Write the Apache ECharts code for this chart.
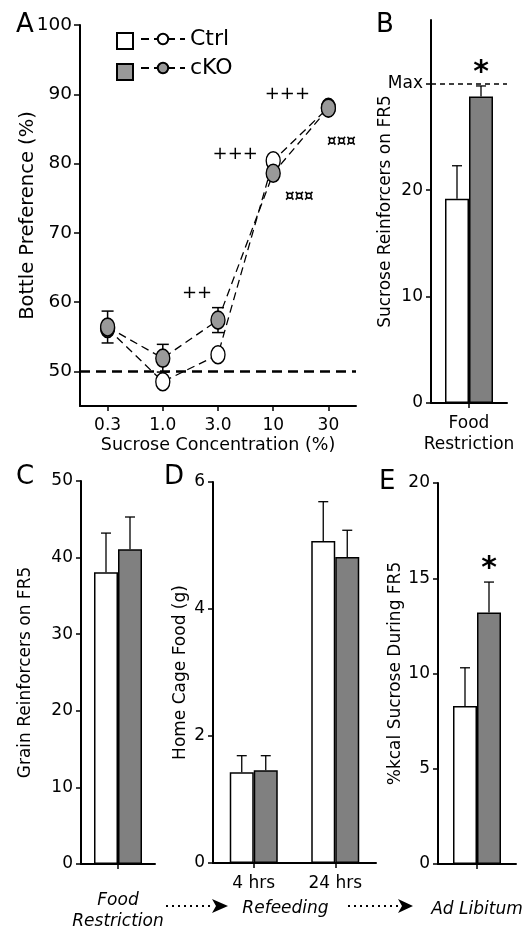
<!DOCTYPE html>
<html>
<head>
<meta charset="utf-8">
<script src="https://cdn.jsdelivr.net/npm/echarts@6/dist/echarts.min.js"></script>
<style>
  html, body { margin: 0; padding: 0; background: #fff; }
  #chartDiv { width: 528px; height: 928px; }
</style>
</head>
<body>
<div id="chartDiv"></div>
<script>
var myChart = echarts.init(document.getElementById('chartDiv'));

// A: two-bottle preference
var concentrations = ['0.3', '1.0', '3.0', '10', '30'];
var ctrlPref = [56.2, 48.5, 52.4, 80.4, 88.1];
var ckoPref = [56.4, 51.9, 57.4, 78.6, 88.0];
var ckoPrefSem = [2.3, 2.0, 1.8, 0, 0];
var plusMarks = ['', '', '++', '+++', '+++'];
var currencyMarks = ['', '', '', '¤¤¤', '¤¤¤'];

// B: sucrose reinforcers, food restriction
var catB = ['Food\nRestriction'];
var ctrlB = [19.2], ctrlSemB = [3.1];
var ckoB = [28.8], ckoSemB = [1.0];
var starB = [1];
var maxReinforcers = 30;

// C: grain reinforcers
var catC = [''];
var ctrlC = [38.1], ctrlSemC = [5.1];
var ckoC = [41.1], ckoSemC = [4.2];
var starC = [0];

// D: home cage food
var catD = ['4 hrs', '24 hrs'];
var ctrlD = [1.43, 5.07], ctrlSemD = [0.26, 0.62];
var ckoD = [1.46, 4.82], ckoSemD = [0.23, 0.42];
var starD = [0, 0];

// E: %kcal sucrose, ad libitum
var catE = [''];
var ctrlE = [8.3], ctrlSemE = [2.0];
var ckoE = [13.2], ckoSemE = [1.6];
var starE = [1];

var fontFam = 'DejaVu Sans';
var BAR_W = 24;

// pixel offsets of the A annotations from their cKO point (style only)
var plusOffsets = [null, null, [-21, -27], [-38, -19], [-41, -14]];
var currencyOffsets = [null, null, null, [26, 24], [13, 34]];

function yAxis(gi, o) {
    return Object.assign({
        type: 'value',
        gridIndex: gi,
        nameLocation: 'middle',
        nameMoveOverlap: false,
        nameTextStyle: {color: '#000', fontSize: 17, fontFamily: fontFam},
        axisLine: {show: true, lineStyle: {color: '#000', width: 2}},
        axisTick: {show: true, length: 5, lineStyle: {color: '#000', width: 1.5}},
        axisLabel: {color: '#000', fontSize: 17, fontFamily: fontFam, margin: 8},
        splitLine: {show: false}
    }, o);
}

function xAxis(gi, cats, o) {
    return Object.assign({
        type: 'category',
        gridIndex: gi,
        data: cats,
        nameLocation: 'middle',
        nameMoveOverlap: false,
        nameTextStyle: {color: '#000', fontSize: 17, fontFamily: fontFam, fontStyle: 'italic', lineHeight: 21},
        axisLine: {show: true, onZero: false, lineStyle: {color: '#000', width: 2}},
        axisTick: {show: true, alignWithLabel: true, length: 5, lineStyle: {color: '#000', width: 1.5}},
        axisLabel: {color: '#000', fontSize: 17, fontFamily: fontFam, margin: 10, lineHeight: 21, interval: 0}
    }, o);
}

function barErrorItem(params, api) {
    var base = api.coord([api.value(0), api.value(1)]);
    var top = api.coord([api.value(0), api.value(2)]);
    var x = base[0] + (api.value(3) ? BAR_W / 2 : -BAR_W / 2);
    var children = [
        {type: 'line', shape: {x1: x, y1: base[1], x2: x, y2: top[1]}, style: {stroke: '#000', lineWidth: 1.3}},
        {type: 'line', shape: {x1: x - 5, y1: top[1], x2: x + 5, y2: top[1]}, style: {stroke: '#000', lineWidth: 1.3}}
    ];
    if (api.value(4)) {
        children.push({
            type: 'text', x: x, y: top[1] - 13,
            style: {text: '*', fill: '#000', font: 'bold 30px "DejaVu Sans"', align: 'center', verticalAlign: 'middle'}
        });
    }
    return {type: 'group', children: children};
}

function barSeries(gi, ctrl, ctrlSem, cko, ckoSem, stars, extraCko) {
    var errData = [];
    for (var i = 0; i < ctrl.length; i++) {
        errData.push([i, ctrl[i], ctrl[i] + ctrlSem[i], 0, 0]);
        errData.push([i, cko[i], cko[i] + ckoSem[i], 1, stars[i]]);
    }
    var ckoSeries = {
        name: 'cKO', type: 'bar', xAxisIndex: gi, yAxisIndex: gi, data: cko,
        barWidth: BAR_W, barGap: '0%',
        itemStyle: {color: '#808080', borderColor: '#000', borderWidth: 1.5}
    };
    if (extraCko) Object.assign(ckoSeries, extraCko);
    return [
        {
            name: 'Ctrl', type: 'bar', xAxisIndex: gi, yAxisIndex: gi, data: ctrl,
            barWidth: BAR_W, barGap: '0%',
            itemStyle: {color: '#fff', borderColor: '#000', borderWidth: 1.5}
        },
        ckoSeries,
        {
            type: 'custom', xAxisIndex: gi, yAxisIndex: gi, data: errData, z: 3,
            encode: {x: 0, y: [1, 2]},
            renderItem: barErrorItem
        }
    ];
}

var prefErr = [];
ckoPref.forEach(function (v, i) {
    if (ckoPrefSem[i] > 0) prefErr.push([i, v - ckoPrefSem[i], v + ckoPrefSem[i]]);
});

// annotation texts anchored on the cKO points
var annoData = [], annoText = [], annoOffset = [], annoFont = [];
ckoPref.forEach(function (v, i) {
    if (plusMarks[i]) {
        annoData.push([i, v]); annoText.push(plusMarks[i]);
        annoOffset.push(plusOffsets[i]); annoFont.push('18px "DejaVu Sans"');
    }
    if (currencyMarks[i]) {
        annoData.push([i, v]); annoText.push(currencyMarks[i]);
        annoOffset.push(currencyOffsets[i]); annoFont.push('bold 15px "DejaVu Sans"');
    }
});

function letter(t, l, tp) {
    return {text: t, left: l, top: tp, textStyle: {fontSize: 26, fontWeight: 'normal', color: '#000', fontFamily: fontFam}};
}

function grid(l, t, w, h) {
    return {left: l, top: t, width: w, height: h, outerBoundsMode: 'none'};
}

option = {
    backgroundColor: '#fff',
    animation: false,
    title: [
        letter('A', 11, 7),
        letter('B', 371, 7),
        letter('C', 11, 459),
        letter('D', 159, 459),
        letter('E', 374, 464)
    ],
    legend: [
        {
            orient: 'vertical', left: 111, top: 27,
            data: ['Ctrl', 'cKO'], icon: 'rect',
            itemWidth: 16, itemHeight: 16, itemGap: 13,
            selectedMode: false,
            formatter: function () { return ''; },
            textStyle: {fontSize: 16}
        },
        {
            orient: 'vertical', left: 135, top: 23,
            data: ['Ctrl', 'cKO'],
            itemWidth: 44, itemHeight: 13, itemGap: 7,
            selectedMode: false,
            textStyle: {fontSize: 22, color: '#000', fontFamily: fontFam}
        }
    ],
    grid: [
        grid(80, 25, 276, 381),
        grid(431, 20, 76, 383),
        grid(81, 481, 74, 383),
        grid(213, 482, 163, 381),
        grid(438, 483, 78, 381)
    ],
    xAxis: [
        xAxis(0, concentrations, {
            name: 'Sucrose Concentration (%)', nameGap: 30,
            nameTextStyle: {color: '#000', fontSize: 17.5, fontFamily: fontFam},
            axisLabel: {color: '#000', fontSize: 17, fontFamily: fontFam, margin: 11}
        }),
        xAxis(1, catB),
        xAxis(2, catC, {name: 'Food\nRestriction', nameGap: 26}),
        xAxis(3, catD, {
            name: 'Refeeding', nameGap: 37,
            nameTextStyle: {color: '#000', fontSize: 17, fontFamily: fontFam, fontStyle: 'italic', padding: [0, 18, 0, 0]}
        }),
        xAxis(4, catE, {name: 'Ad Libitum', nameGap: 35})
    ],
    yAxis: [
        yAxis(0, {
            min: 45, max: 100, name: 'Bottle Preference (%)', nameGap: 42,
            nameTextStyle: {color: '#000', fontSize: 19.5, fontFamily: fontFam},
            axisTick: {show: true, length: 6, customValues: [50, 60, 70, 80, 90, 100], lineStyle: {color: '#000', width: 1.5}},
            axisLabel: {color: '#000', fontSize: 18.5, fontFamily: fontFam, margin: 8, customValues: [50, 60, 70, 80, 90, 100]}
        }),
        yAxis(1, {
            min: 0, max: 36, name: 'Sucrose Reinforcers on FR5', nameGap: 37,
            axisTick: {show: true, length: 5, customValues: [0, 10, 20, maxReinforcers], lineStyle: {color: '#000', width: 1.5}},
            axisLabel: {
                color: '#000', fontSize: 17, fontFamily: fontFam, margin: 8,
                customValues: [0, 10, 20, maxReinforcers],
                formatter: function (v) { return v === maxReinforcers ? 'Max' : v; }
            }
        }),
        yAxis(2, {min: 0, max: 50, interval: 10, name: 'Grain Reinforcers on FR5', nameGap: 47}),
        yAxis(3, {min: 0, max: 6, interval: 2, name: 'Home Cage Food (g)', nameGap: 24}),
        yAxis(4, {min: 0, max: 20, interval: 5, name: '%kcal Sucrose During FR5', nameGap: 34})
    ],
    graphic: [
        {type: 'polyline', shape: {points: [[166, 906], [212, 906]]}, style: {stroke: '#000', lineWidth: 2, lineDash: [2, 4]}},
        {type: 'polygon', shape: {points: [[212, 899], [228, 906], [212, 913], [216, 906]]}, style: {fill: '#000'}},
        {type: 'polyline', shape: {points: [[348, 906], [398, 906]]}, style: {stroke: '#000', lineWidth: 2, lineDash: [2, 4]}},
        {type: 'polygon', shape: {points: [[398, 899], [413, 906], [398, 913], [402, 906]]}, style: {fill: '#000'}}
    ],
    series: [
        {
            type: 'custom', xAxisIndex: 0, yAxisIndex: 0, data: prefErr, z: 1,
            encode: {x: 0, y: [1, 2]},
            renderItem: function (params, api) {
                var lo = api.coord([api.value(0), api.value(1)]);
                var hi = api.coord([api.value(0), api.value(2)]);
                var st = {stroke: '#000', lineWidth: 1.5};
                return {type: 'group', children: [
                    {type: 'line', shape: {x1: lo[0], y1: lo[1], x2: hi[0], y2: hi[1]}, style: st},
                    {type: 'line', shape: {x1: lo[0] - 6, y1: lo[1], x2: lo[0] + 6, y2: lo[1]}, style: st},
                    {type: 'line', shape: {x1: hi[0] - 6, y1: hi[1], x2: hi[0] + 6, y2: hi[1]}, style: st}
                ]};
            }
        },
        {
            name: 'Ctrl', type: 'line', xAxisIndex: 0, yAxisIndex: 0, data: ctrlPref, z: 2,
            symbol: 'circle', symbolSize: [14, 18],
            itemStyle: {color: '#fff', borderColor: '#000', borderWidth: 1.5},
            lineStyle: {color: '#000', width: 1.3, type: [8, 5]},
            markLine: {
                silent: true, symbol: 'none', label: {show: false},
                lineStyle: {color: '#000', width: 2.5, type: [10, 6]},
                data: [{yAxis: 50}]
            }
        },
        {
            name: 'cKO', type: 'line', xAxisIndex: 0, yAxisIndex: 0, data: ckoPref, z: 3,
            symbol: 'circle', symbolSize: [14, 18],
            itemStyle: {color: '#999', borderColor: '#000', borderWidth: 1.5},
            lineStyle: {color: '#000', width: 1.3, type: [8, 5]}
        },
        {
            type: 'custom', xAxisIndex: 0, yAxisIndex: 0, data: annoData, z: 4, silent: true,
            encode: {x: 0, y: 1},
            renderItem: function (params, api) {
                var p = api.coord([api.value(0), api.value(1)]);
                var k = params.dataIndex;
                return {
                    type: 'text', x: p[0] + annoOffset[k][0], y: p[1] + annoOffset[k][1],
                    style: {text: annoText[k], fill: '#000', font: annoFont[k], align: 'center', verticalAlign: 'middle'}
                };
            }
        }
    ]
        .concat(barSeries(1, ctrlB, ctrlSemB, ckoB, ckoSemB, starB, {
            markLine: {
                silent: true, symbol: 'none', label: {show: false},
                lineStyle: {color: '#000', width: 1.5, type: [5, 4]},
                data: [{yAxis: maxReinforcers}]
            }
        }))
        .concat(barSeries(2, ctrlC, ctrlSemC, ckoC, ckoSemC, starC))
        .concat(barSeries(3, ctrlD, ctrlSemD, ckoD, ckoSemD, starD))
        .concat(barSeries(4, ctrlE, ctrlSemE, ckoE, ckoSemE, starE))
};
myChart.setOption(option);
</script>
</body>
</html>
